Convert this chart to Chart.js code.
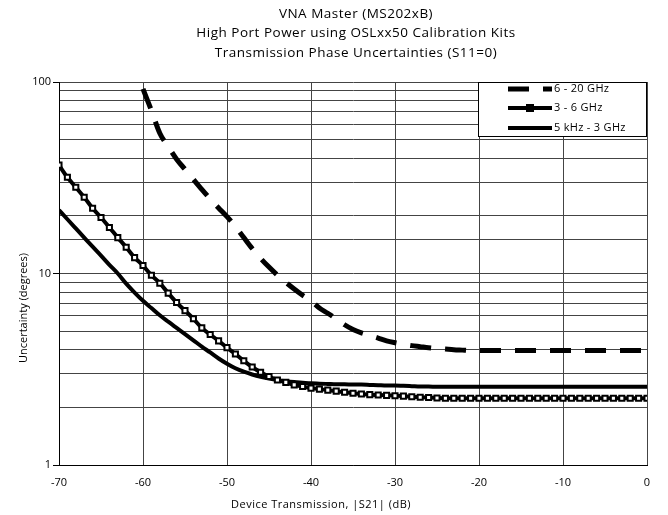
<!DOCTYPE html>
<html>
<head>
<meta charset="utf-8">
<title>Transmission Phase Uncertainties</title>
<script src="https://cdn.jsdelivr.net/npm/chart.js@4.4.1/dist/chart.umd.min.js"></script>
<style>
  body { margin: 0; background: #fff; }
  #wrap { width: 668px; height: 515px; position: relative; }
</style>
</head>
<body>
<div id="wrap"><canvas id="phaseChart"></canvas></div>
<script>
// phase uncertainty vs |S21|, one point per dB

const transmissionDb = [
  -70, -69, -68, -67, -66, -65, -64, -63, -62, -61,
  -60, -59, -58, -57, -56, -55, -54, -53, -52, -51,
  -50, -49, -48, -47, -46, -45, -44, -43, -42, -41,
  -40, -39, -38, -37, -36, -35, -34, -33, -32, -31,
  -30, -29, -28, -27, -26, -25, -24, -23, -22, -21,
  -20, -19, -18, -17, -16, -15, -14, -13, -12, -11,
  -10, -9, -8, -7, -6, -5, -4, -3, -2, -1, 0
];

const seriesNames = ['6 - 20 GHz', '3 - 6 GHz', '5 kHz - 3 GHz'];

// degrees; the 6-20 GHz curve only starts at -60 dB
const band6to20 = [
  null, null, null, null, null, null, null, null, null, null,
  92, 71, 54, 46, 39.5, 35, 31, 27.5, 24.5, 22,
  19.8, 17.6, 15.4, 13.5, 12, 10.8, 9.8, 9.0, 8.3, 7.7,
  7.2, 6.6, 6.2, 5.8, 5.4, 5.1, 4.9, 4.75, 4.6, 4.45,
  4.35, 4.27, 4.2, 4.15, 4.1, 4.06, 4.03, 4.0, 3.98, 3.96,
  3.96, 3.96, 3.96, 3.96, 3.96, 3.96, 3.96, 3.96, 3.96, 3.96,
  3.96, 3.96, 3.96, 3.96, 3.96, 3.96, 3.96, 3.96, 3.96, 3.96, 3.96
];

const band3to6 = [
  36.8, 31.8, 28.2, 25.0, 21.9, 19.6, 17.4, 15.4, 13.7, 12.1,
  11.0, 9.8, 8.9, 7.9, 7.05, 6.4, 5.8, 5.2, 4.8, 4.45,
  4.1, 3.8, 3.5, 3.25, 3.05, 2.9, 2.78, 2.7, 2.62, 2.57,
  2.52, 2.49, 2.46, 2.43, 2.4, 2.37, 2.35, 2.33, 2.32, 2.31,
  2.3, 2.29, 2.27, 2.26, 2.25, 2.24, 2.23, 2.23, 2.23, 2.23,
  2.23, 2.23, 2.23, 2.23, 2.23, 2.23, 2.23, 2.23, 2.23, 2.23,
  2.23, 2.23, 2.23, 2.23, 2.23, 2.23, 2.23, 2.23, 2.23, 2.23, 2.23
];

const band5kto3G = [
  21.4, 19.2, 17.2, 15.4, 13.8, 12.4, 11.1, 10.0, 8.85, 7.95,
  7.2, 6.6, 6.05, 5.6, 5.2, 4.83, 4.48, 4.15, 3.87, 3.6,
  3.38, 3.2, 3.07, 2.97, 2.89, 2.83, 2.78, 2.74, 2.71, 2.69,
  2.67, 2.66, 2.65, 2.64, 2.64, 2.63, 2.63, 2.62, 2.61, 2.6,
  2.6, 2.59, 2.58, 2.57, 2.57, 2.56, 2.56, 2.56, 2.56, 2.56,
  2.56, 2.56, 2.56, 2.56, 2.56, 2.56, 2.56, 2.56, 2.56, 2.56,
  2.56, 2.56, 2.56, 2.56, 2.56, 2.56, 2.56, 2.56, 2.56, 2.56, 2.56
];

const yLabelTicks = [1, 10, 100];
const xTicks = [-70, -60, -50, -40, -30, -20, -10, 0];

const titleLines = [
  'VNA Master (MS202xB)',
  'High Port Power using OSLxx50 Calibration Kits',
  'Transmission Phase Uncertainties (S11=0)'
];
const xTitle = 'Device Transmission, |S21| (dB)';
const yTitle = 'Uncertainty (degrees)';

const fontFamily = '"Open Sans", "DejaVu Sans", sans-serif';

function toPoints(values) {
  return transmissionDb.map((x, i) => ({ x: x, y: values[i] }));
}

// titles and axis captions
const captionPlugin = {
  id: 'captions',
  afterDraw(chart) {
    const ctx = chart.ctx;
    const area = chart.chartArea;
    const cx = (area.left + area.right) / 2 + 3;
    ctx.save();
    ctx.fillStyle = '#000';
    ctx.textAlign = 'center';
    ctx.textBaseline = 'middle';
    ctx.letterSpacing = '0.5px';
    ctx.font = '13.5px ' + fontFamily;
    titleLines.forEach((line, i) => ctx.fillText(line, cx, 14 + i * 19.5));

    ctx.font = '11px ' + fontFamily;
    ctx.fillText(xTitle, 321, 505);

    ctx.letterSpacing = '0px';
    ctx.translate(24, 308);
    ctx.rotate(-Math.PI / 2);
    ctx.fillText(yTitle, 0, 0);
    ctx.restore();
  }
};

// boxed legend in the top right corner of the plot
const legendBoxPlugin = {
  id: 'legendBox',
  afterDraw(chart) {
    const ctx = chart.ctx;
    const area = chart.chartArea;
    const boxW = 169, boxH = 55;
    const left = area.right - boxW;
    const top = area.top;
    ctx.save();
    ctx.fillStyle = '#fff';
    ctx.fillRect(left, top, boxW, boxH);
    ctx.strokeStyle = '#000';
    ctx.lineWidth = 1;
    ctx.strokeRect(left + 0.5, top + 0.5, boxW - 1, boxH - 1);

    const rowY = [top + 7, top + 26, top + 46];
    const x0 = left + 30, x1 = left + 74;
    chart.data.datasets.forEach((ds, i) => {
      const y = rowY[i];
      ctx.strokeStyle = ds.borderColor;
      ctx.lineWidth = ds.borderWidth;
      ctx.setLineDash(ds.borderDash || []);
      ctx.beginPath();
      ctx.moveTo(x0, y);
      ctx.lineTo(x1, y);
      ctx.stroke();
      ctx.setLineDash([]);
      if (ds.pointRadius > 0) {
        ctx.fillStyle = '#000';
        ctx.fillRect((x0 + x1) / 2 - 4, y - 4, 8, 8);
      }
      ctx.fillStyle = '#000';
      ctx.font = '11px ' + fontFamily;
      ctx.textAlign = 'left';
      ctx.textBaseline = 'middle';
      ctx.letterSpacing = '0.3px';
      ctx.fillText(ds.label, x1 + 2, y);
    });
    ctx.restore();
  }
};

const ctx = document.getElementById('phaseChart').getContext('2d');
const phaseChart = new Chart(ctx, {
  type: 'line',
  data: {
    datasets: [
      {
        label: seriesNames[0],
        data: toPoints(band6to20),
        borderColor: '#000',
        borderWidth: 5,
        borderDash: [21, 14],
        pointRadius: 0,
        cubicInterpolationMode: 'monotone'
      },
      {
        label: seriesNames[1],
        data: toPoints(band3to6),
        borderColor: '#000',
        borderWidth: 4,
        pointStyle: 'rect',
        pointRadius: 3.6,
        pointBorderWidth: 2,
        pointBorderColor: '#000',
        pointBackgroundColor: '#fff',
        cubicInterpolationMode: 'monotone'
      },
      {
        label: seriesNames[2],
        data: toPoints(band5kto3G),
        borderColor: '#000',
        borderWidth: 4,
        pointRadius: 0,
        cubicInterpolationMode: 'monotone'
      }
    ]
  },
  options: {
    responsive: true,
    maintainAspectRatio: false,
    animation: false,
    layout: {
      padding: { top: 82, right: 21, bottom: 0, left: 0 }
    },
    plugins: {
      legend: { display: false },
      title: { display: false },
      tooltip: { enabled: false }
    },
    scales: {
      x: {
        type: 'linear',
        min: -70,
        max: 0,
        afterBuildTicks: function(scale) {
          scale.ticks = xTicks.map(v => ({ value: v }));
        },
        afterFit: function(scale) {
          scale.height = 50;
        },
        ticks: {
          padding: 11,
          color: '#000',
          font: { family: fontFamily, size: 11 }
        },
        grid: {
          color: '#444',
          lineWidth: 1,
          drawTicks: false
        },
        border: { color: '#000', width: 1 }
      },
      y: {
        type: 'logarithmic',
        min: 1,
        max: 100,
        afterFit: function(scale) {
          scale.width = 59;
        },
        ticks: {
          autoSkip: false,
          padding: 2,
          color: '#000',
          font: { family: fontFamily, size: 11 },
          callback: function(value) {
            return yLabelTicks.includes(value) ? String(value) : '';
          }
        },
        grid: {
          color: '#444',
          lineWidth: 1,
          tickLength: 6,
          tickColor: function(context) {
            return context.tick && yLabelTicks.includes(context.tick.value) ? '#000' : 'rgba(0,0,0,0)';
          }
        },
        border: { color: '#000', width: 1 }
      }
    }
  },
  plugins: [captionPlugin, legendBoxPlugin]
});
</script>
</body>
</html>
